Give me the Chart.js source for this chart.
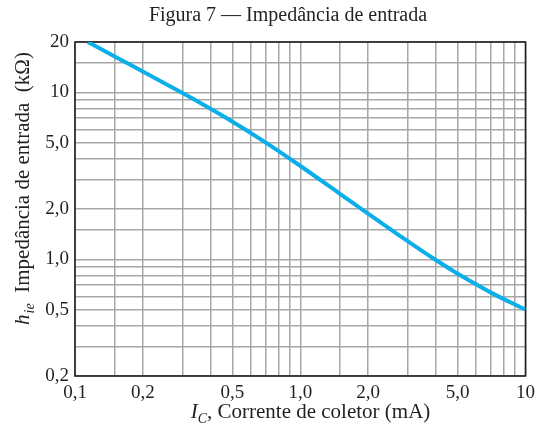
<!DOCTYPE html>
<html>
<head>
<meta charset="utf-8">
<script src="https://cdn.jsdelivr.net/npm/chart.js@4/dist/chart.umd.min.js"></script>
<style>
html,body{margin:0;padding:0;background:#fff;}
#wrap{width:541px;height:429px;position:relative;}
</style>
</head>
<body>
<div id="wrap"><canvas id="c" width="541" height="429"></canvas></div>
<script>
// ---- data ----
const currentMA      = [0.114, 0.15, 0.2,  0.3, 0.354, 0.48, 0.695, 0.973, 1.51, 1.97, 2.67, 4.0,  5.0,  5.51, 7.13,  10];
const impedanceKOhm  = [20,    16.4, 13.3, 9.9, 8.75,  6.9,  5.05,  3.72,  2.45, 1.9,  1.43, 0.99, 0.82, 0.76, 0.625, 0.5];

const xGridValues = [0.1,0.15,0.2,0.3,0.4,0.5,0.6,0.7,0.8,0.9,1,1.5,2,3,4,5,6,7,8,9,10];
const yGridValues = [0.2,0.3,0.4,0.5,0.6,0.7,0.8,0.9,1,1.5,2,3,4,5,6,7,8,9,10,15,20];
const xTickValues = [0.1,0.2,0.5,1,2,5,10];
const xTickLabels = ['0,1','0,2','0,5','1,0','2,0','5,0','10'];
const yTickValues = [0.2,0.5,1,2,5,10,20];
const yTickLabels = ['0,2','0,5','1,0','2,0','5,0','10','20'];

const titleText = 'Figura 7 — Impedância de entrada';
const xTitleMain = 'I', xTitleSub = 'C', xTitleRest = ', Corrente de coletor (mA)';
const yTitleMain = 'h', yTitleSub = 'ie', yTitleRest = '  Impedância de entrada  (kΩ)';

const SERIF = '"Liberation Serif", "DejaVu Serif", serif';
const TEXT = '#231f20';

function labelFor(values, labels, v){
  for (let i=0;i<values.length;i++){ if (Math.abs(values[i]-v) < 1e-6*values[i]) return labels[i]; }
  return '';
}

const textPlugin = {
  id: 'textPlugin',
  beforeDatasetsDraw(chart){
    const {ctx, chartArea:a} = chart;
    ctx.save();
    ctx.strokeStyle = '#231f20';
    ctx.lineWidth = 1.6;
    ctx.strokeRect(a.left, a.top, a.right-a.left, a.bottom-a.top);
    ctx.restore();
  },
  afterDraw(chart){
    const {ctx} = chart;
    ctx.save();
    ctx.fillStyle = TEXT;
    ctx.textBaseline = 'alphabetic';
    // title
    ctx.font = '20px ' + SERIF;
    ctx.textAlign = 'center';
    ctx.fillText(titleText, 288, 21);

    ctx.textAlign = 'left';
    // x axis title
    const fMain = 'italic 21px ' + SERIF, fSub = 'italic 14px ' + SERIF, fRest = '21px ' + SERIF;
    ctx.font = fMain; const w1 = ctx.measureText(xTitleMain).width;
    ctx.font = fSub;  const w2 = ctx.measureText(xTitleSub).width;
    ctx.font = fRest; const w3 = ctx.measureText(xTitleRest).width;
    let x0 = 310.5 - (w1+w2+w3)/2, yb = 418;
    ctx.font = fMain; ctx.fillText(xTitleMain, x0, yb);
    ctx.font = fSub;  ctx.fillText(xTitleSub, x0+w1, yb+5);
    ctx.font = fRest; ctx.fillText(xTitleRest, x0+w1+w2, yb);

    // y axis title (rotated)
    ctx.translate(29, 189);
    ctx.rotate(-Math.PI/2);
    ctx.font = fMain; const v1 = ctx.measureText(yTitleMain).width;
    ctx.font = fSub;  const v2 = ctx.measureText(yTitleSub).width;
    ctx.font = fRest; const v3 = ctx.measureText(yTitleRest).width;
    let s0 = -(v1+v2+v3)/2;
    ctx.font = fMain; ctx.fillText(yTitleMain, s0, 0);
    ctx.font = fSub;  ctx.fillText(yTitleSub, s0+v1+1, 5);
    ctx.font = fRest; ctx.fillText(yTitleRest, s0+v1+v2+1, 0);
    ctx.restore();
  }
};

new Chart(document.getElementById('c'), {
  type: 'line',
  data: {
    datasets: [{
      data: currentMA.map((x,i)=>({x:x, y:impedanceKOhm[i]})),
      borderColor: '#0aaee8',
      borderWidth: 4,
      pointRadius: 0,
      fill: false,
      cubicInterpolationMode: 'monotone'
    }]
  },
  options: {
    responsive: false,
    animation: false,
    layout: { padding: { top: 42, right: 10, left: 0, bottom: 0 } },
    plugins: { legend: {display:false}, tooltip: {enabled:false}, title: {display:false} },
    scales: {
      x: {
        type: 'logarithmic',
        min: 0.1, max: 10,
        afterBuildTicks(s){ s.ticks = xGridValues.map(v=>({value:v})); },
        afterFit(s){ s.height = 53; },
        grid: { color: '#a7a7a7', lineWidth: 1.5, drawTicks: false },
        border: { display: false },
        ticks: {
          autoSkip: false, maxRotation: 0, padding: 6, color: TEXT,
          font: { family: SERIF, size: 19 },
          callback(v){ return labelFor(xTickValues, xTickLabels, v); }
        }
      },
      y: {
        type: 'logarithmic',
        min: 0.2, max: 20,
        afterBuildTicks(s){ s.ticks = yGridValues.map(v=>({value:v})); },
        afterFit(s){ s.width = 75; },
        grid: { color: '#a7a7a7', lineWidth: 1.5, drawTicks: false },
        border: { display: false },
        ticks: {
          autoSkip: false, padding: 6, color: TEXT,
          font: { family: SERIF, size: 19 },
          callback(v){ return labelFor(yTickValues, yTickLabels, v); }
        }
      }
    }
  },
  plugins: [textPlugin]
});
</script>
</body>
</html>
